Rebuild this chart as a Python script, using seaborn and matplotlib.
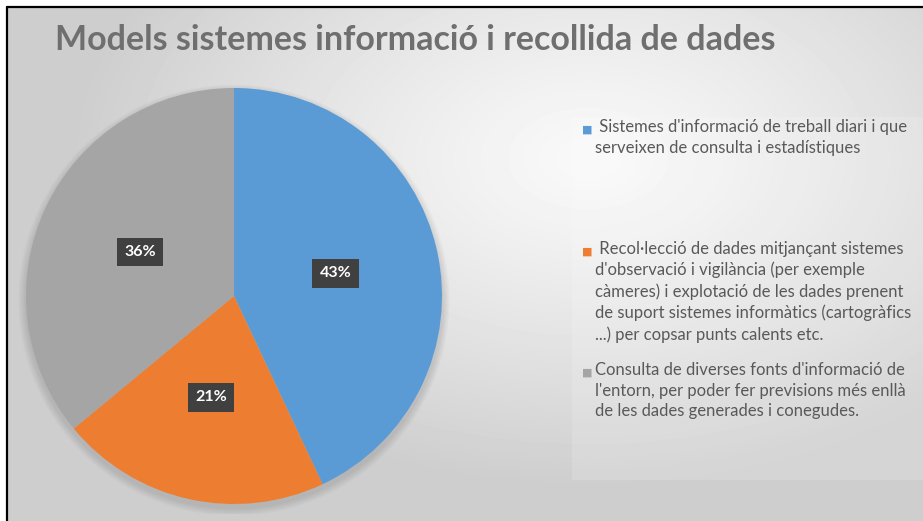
import numpy as np
import matplotlib
matplotlib.use("Agg")
import matplotlib.pyplot as plt
import matplotlib.patches as mpatches
import seaborn as sns

# chart data
title = "Models sistemes informació i recollida de dades"
categories = [
    " Sistemes d'informació de treball diari i que\nserveixen de consulta i estadístiques",
    " Recol·lecció de dades mitjançant sistemes\nd'observació i vigilància (per exemple\ncàmeres) i explotació de les dades prenent\nde suport sistemes informàtics (cartogràfics\n...) per copsar punts calents etc.",
    "Consulta de diverses fonts d'informació de\nl'entorn, per poder fer previsions més enllà\nde les dades generades i conegudes.",
]
shares = [43, 21, 36]
colors = ["#5b9bd5", "#ed7d31", "#a5a5a5"]

sns.set_theme(style="white")
plt.rcParams['font.family'] = ['Lato', 'DejaVu Sans']

W, H = 923, 521
fig = plt.figure(figsize=(W / 100, H / 100), dpi=100)
fig.patch.set_facecolor("white")

# gradient background inside the frame
bg = fig.add_axes([8 / W, 0, 1 - 8 / W, 1 - 8 / H])
yy, xx = np.mgrid[0:H - 8, 0:W - 8]
d = np.sqrt(((xx - 580) / 520.0) ** 2 + ((yy - 150) / 330.0) ** 2)
shade = 0.975 - 0.17 * np.clip(d, 0, 1) ** 1.2
bg.imshow(shade, cmap="gray", vmin=0, vmax=1, aspect="auto", interpolation="bilinear")
bg.set_axis_off()

# frame lines (top and left)
fig.add_artist(plt.Line2D([7 / W, 1], [1 - 7 / H, 1 - 7 / H], color="black", lw=1.6))
fig.add_artist(plt.Line2D([7 / W, 7 / W], [0, 1 - 7 / H], color="black", lw=1.6))

# lighter legend area
fig.add_artist(mpatches.Rectangle((572 / W, 1 - 480 / H), (W - 572) / W, 363 / H,
                                  transform=fig.transFigure, facecolor="white",
                                  alpha=0.15, edgecolor="none"))

# pie
cx, cy, r = 234, 296, 208
ax = fig.add_axes([(cx - r * 1.05) / W, (H - cy - r * 1.05) / H, 2.1 * r / W, 2.1 * r / H])
ax.set_axis_off()
# soft shadow under the pie
for k in range(6):
    ax.add_patch(mpatches.Circle((0.0, -0.02), 1.0 + 0.006 * (k + 1),
                                 facecolor="black", alpha=0.018, edgecolor="none"))
wedges, texts, autotexts = ax.pie(
    shares, colors=colors, startangle=90, counterclock=False, radius=1,
    autopct=lambda p: f"{p:.0f}%", pctdistance=0.5,
    wedgeprops=dict(linewidth=0),
    textprops=dict(color="white", fontsize=11.5, fontweight="bold"),
)
for t in autotexts:
    t.set_bbox(dict(boxstyle="square,pad=0.45", facecolor="#404040", edgecolor="none"))
ax.set_xlim(-1.05, 1.05)
ax.set_ylim(-1.05, 1.05)

# title
fig.text(55 / W, 1 - 50 / H, title, fontsize=24.5, fontweight="bold",
         color="#6f6f6f", ha="left", va="baseline")

# legend entries
entry_y = [130, 252, 373]
for label, col, y in zip(categories, colors, entry_y):
    fig.text(582 / W, 1 - y / H, "■", color=col, fontsize=8, ha="left", va="center",
             family=["DejaVu Sans"])
    fig.text(595 / W, 1 - (y - 11) / H, label, color="#595959", fontsize=12,
             ha="left", va="top", linespacing=1.36)

fig.savefig("out.png", dpi=100)
